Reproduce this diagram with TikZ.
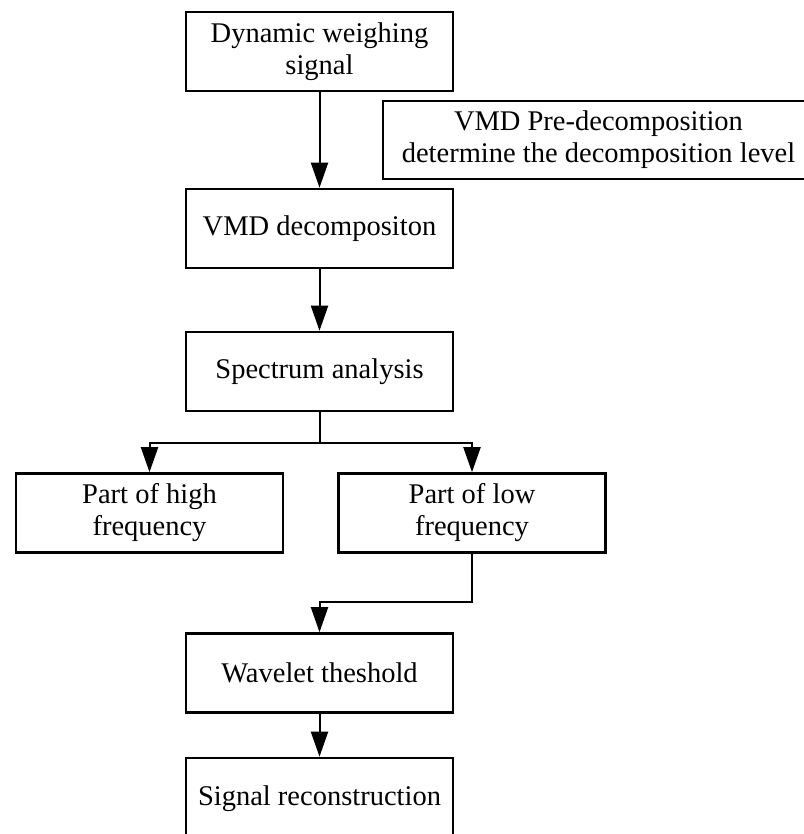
\documentclass[tikz,border=0pt]{standalone}
\usepackage{fontspec}
\setmainfont{Liberation Serif}
\usepackage{tikz}
\usetikzlibrary{arrows.meta,positioning}

\begin{document}
\begin{tikzpicture}[
  x=1pt, y=1pt,
  every node/.style={font=\fontsize{28.5}{32}\selectfont},
  stepbox/.style={draw, line width=2.6pt, minimum width=267pt, minimum height=79pt, align=center, inner sep=2pt},
  flow/.style={draw, line width=2pt, -{Triangle[length=25pt, width=17pt]}}
]
\useasboundingbox (0,0) rectangle (803,-834);
\node[stepbox] (sig) at (319.5,-51.5) {Dynamic weighing\\signal};
\node[stepbox, minimum width=431pt, minimum height=78pt] (pre) at (598.5,-140) {VMD Pre-decomposition\\determine the decomposition level};
\node[stepbox] (vmd) at (319.5,-228.5) {VMD decompositon};
\node[stepbox] (spec) at (319.5,-371.5) {Spectrum analysis};
\node[stepbox] (high) at (149.5,-513) {Part of high\\frequency};
\node[stepbox] (low) at (472,-513) {Part of low\\frequency};
\node[stepbox] (wav) at (319.5,-673) {Wavelet theshold};
\node[stepbox, minimum height=82pt] (rec) at (319.5,-799) {Signal reconstruction};

\draw[flow] (sig) -- (vmd);
\draw[flow] (vmd) -- (spec);
\draw[flow] (spec.south) -- ++(0,-31) -| (high.north);
\draw[flow] (spec.south) -- ++(0,-31) -| (low.north);
\draw[flow] (low.south) -- ++(0,-48) -| (wav.north);
\draw[flow] (wav) -- (rec);
\end{tikzpicture}
\end{document}
